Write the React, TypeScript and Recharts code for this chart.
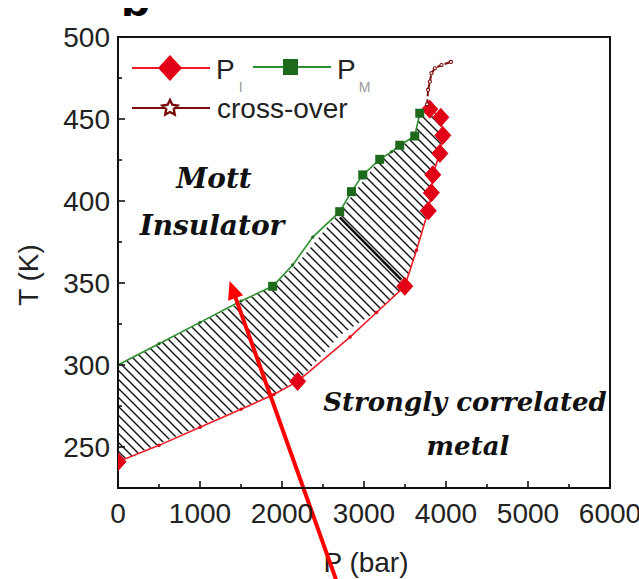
import React from 'react';
import { ComposedChart, Line, Area, XAxis, YAxis, ReferenceLine, ReferenceArea } from 'recharts';

// ---- data ----
const xTicks = [0, 500, 1000, 1500, 2000, 2500, 3000, 3500, 4000, 4500, 5000, 5500, 6000];
const yTicks = [250, 275, 300, 325, 350, 375, 400, 425, 450, 475, 500];

// P_I (red diamonds); big = 1 for large marker
const piP = [0, 500, 1000, 1500, 1900, 2191, 2829, 3152, 3497, 3640, 3784, 3821, 3839, 3925, 3961, 3937, 3802];
const piT = [241, 251, 262, 273, 282, 290, 317, 332, 348, 370, 394, 405, 416, 429, 440, 451, 456];
const piBig = [1, 0, 0, 0, 0, 1, 0, 0, 1, 0, 1, 1, 1, 1, 1, 1, 1];

// P_M (green squares)
const pmP = [0, 500, 1000, 1500, 1886, 2130, 2375, 2704, 2847, 2985, 3192, 3335, 3436, 3619, 3680];
const pmT = [300, 313, 326, 339, 348, 361, 378, 393.5, 405.7, 415.9, 425.4, 430, 434, 439.6, 453.5];
const pmBig = [0, 0, 0, 0, 1, 0, 0, 1, 1, 1, 1, 0, 1, 1, 1];

// cross-over (dark red, open stars)
const coP = [3770, 3782, 3803, 3823, 3864, 3945, 4060];
const coT = [459, 467.7, 472.8, 477.9, 480.9, 482.9, 484.8];

// hatched coexistence band (lower = P_I side, upper = P_M side)
const bandP = [0, 1886, 2191, 2704, 3192, 3497, 3619, 3680, 3784, 3839, 3925, 3961];
const bandLo = [241, 282, 290, 318, 334, 348, 366, 377, 394, 416, 429, 441];
const bandHi = [300, 348, 362, 393.5, 425.4, 435, 439.6, 453.5, 455.5, 454, 452, 444];

// annotation arrow (tail -> tip) and the emphasised hatch stroke
const arrowP = [2704, 1361];
const arrowT = [162.8, 351.2];
const boldP = [2704, 3455];
const boldT = [390, 352];

const piData = piP.map((x, i) => ({ x, t: piT[i], big: piBig[i] }));
const pmData = pmP.map((x, i) => ({ x, t: pmT[i], big: pmBig[i] }));
const coData = coP.map((x, i) => ({ x, t: coT[i] }));
const bandData = bandP.map((x, i) => ({ x, band: [bandLo[i], bandHi[i]] }));

const SANS = '"Liberation Sans", Arial, sans-serif';
const SERIF = '"DejaVu Serif", serif';
const RED = '#ee1c25';
const RED_M = '#e10016';
const GREEN = '#2f8f2f';
const GREEN_M = '#1d6a1d';
const DRED = '#7a0c0c';

const starPoints = (cx: number, cy: number, ro: number, ri: number) => {
  const pts: string[] = [];
  for (let k = 0; k < 10; k++) {
    const r = k % 2 === 0 ? ro : ri;
    const a = -Math.PI / 2 + (k * Math.PI) / 5;
    pts.push(`${cx + r * Math.cos(a)},${cy + r * Math.sin(a)}`);
  }
  return pts.join(' ');
};

const XTick = (p: any) => {
  const v = p.payload.value;
  const major = v % 1000 === 0;
  return (
    <g>
      <line x1={p.x} x2={p.x} y1={p.y} y2={p.y - (major ? 7 : 4)} stroke="#111" strokeWidth={1.6} />
      {major && (
        <text x={p.x} y={p.y + 35} textAnchor="middle" fontSize={28} fill="#222" fontFamily={SANS}>
          {v}
        </text>
      )}
    </g>
  );
};

const YTick = (p: any) => {
  const v = p.payload.value;
  const major = v % 50 === 0;
  return (
    <g>
      <line x1={p.x} x2={p.x + (major ? 7 : 4)} y1={p.y} y2={p.y} stroke="#111" strokeWidth={1.6} />
      {major && (
        <text x={p.x - 8} y={p.y + 10} textAnchor="end" fontSize={28} fill="#222" fontFamily={SANS}>
          {v}
        </text>
      )}
    </g>
  );
};

const PiDot = (p: any) => {
  const { cx, cy, payload, index } = p;
  if (cx == null || cy == null) return <g key={`pi${index}`} />;
  if (!payload.big) return <circle key={`pi${index}`} cx={cx} cy={cy} r={1.8} fill={RED_M} />;
  const w = 8, h = 9;
  return (
    <polygon
      key={`pi${index}`}
      points={`${cx},${cy - h} ${cx + w},${cy} ${cx},${cy + h} ${cx - w},${cy}`}
      fill={RED_M}
      stroke={RED_M}
    />
  );
};

const PmDot = (p: any) => {
  const { cx, cy, payload, index } = p;
  if (cx == null || cy == null) return <g key={`pm${index}`} />;
  if (!payload.big) return <circle key={`pm${index}`} cx={cx} cy={cy} r={1.6} fill={GREEN_M} />;
  const s = 4.5;
  return <rect key={`pm${index}`} x={cx - s} y={cy - s} width={2 * s} height={2 * s} fill={GREEN_M} />;
};

const CoDot = (p: any) => {
  const { cx, cy, index } = p;
  if (cx == null || cy == null) return <g key={`co${index}`} />;
  return <circle key={`co${index}`} cx={cx} cy={cy} r={1.6} fill="#fff" stroke={DRED} strokeWidth={1.1} />;
};

const ArrowShape = (p: any) => {
  const { x1, y1, x2, y2 } = p;
  if (x1 == null) return <g />;
  const dx = x2 - x1, dy = y2 - y1;
  const len = Math.sqrt(dx * dx + dy * dy);
  const ux = dx / len, uy = dy / len;
  const hl = 18, hw = 8;
  const bx = x2 - ux * hl, by = y2 - uy * hl;
  const nx = -uy, ny = ux;
  return (
    <g>
      <line x1={x1} y1={y1} x2={bx + ux * 2} y2={by + uy * 2} stroke="#ff0000" strokeWidth={4} />
      <polygon
        points={`${x2},${y2} ${bx + nx * hw},${by + ny * hw} ${bx - nx * hw},${by - ny * hw}`}
        fill="#ff0000"
      />
    </g>
  );
};

export default function App() {
  return (
    <div style={{ position: 'absolute', left: 0, top: 0, width: 639, height: 579, background: '#fff' }}>
      <ComposedChart width={639} height={579} margin={{ top: 37, right: 29, bottom: 0, left: 0 }}>
        <defs>
          <pattern id="hatch" patternUnits="userSpaceOnUse" width="9" height="9">
            <path d="M-2,-2 L11,11 M-2,7 L2,11 M7,-2 L11,2" stroke="#111" strokeWidth="1.4" />
          </pattern>
          <clipPath id="panelClip">
            <rect x={100} y={8} width={100} height={20} />
          </clipPath>
        </defs>
        <XAxis
          type="number"
          dataKey="x"
          domain={[0, 6000]}
          ticks={xTicks}
          interval={0}
          tick={<XTick />}
          tickLine={false}
          tickSize={0}
          tickMargin={0}
          height={91}
          allowDataOverflow
          axisLine={{ stroke: '#111', strokeWidth: 2 }}
        />
        <YAxis
          type="number"
          domain={[225, 500]}
          ticks={yTicks}
          interval={0}
          tick={<YTick />}
          tickLine={false}
          tickSize={0}
          tickMargin={0}
          width={118}
          allowDataOverflow
          axisLine={{ stroke: '#111', strokeWidth: 2 }}
        />
        <ReferenceArea x1={0} x2={6000} y1={225} y2={500} fill="none" stroke="#111" strokeWidth={2} ifOverflow="visible" />
        <Area
          data={bandData}
          dataKey="band"
          type="linear"
          fill="url(#hatch)"
          fillOpacity={1}
          stroke="none"
          isAnimationActive={false}
          activeDot={false}
        />
        <ReferenceLine
          segment={[{ x: boldP[0], y: boldT[0] }, { x: boldP[1], y: boldT[1] }]}
          stroke="#111"
          strokeWidth={2.6}
          ifOverflow="visible"
        />
        <Line
          data={piData}
          dataKey="t"
          type="linear"
          stroke={RED}
          strokeWidth={1.6}
          dot={PiDot}
          activeDot={false}
          isAnimationActive={false}
        />
        <Line
          data={pmData}
          dataKey="t"
          type="linear"
          stroke={GREEN}
          strokeWidth={1.6}
          dot={PmDot}
          activeDot={false}
          isAnimationActive={false}
        />
        <Line
          data={coData}
          dataKey="t"
          type="linear"
          stroke={DRED}
          strokeWidth={2}
          strokeDasharray="5 3"
          dot={CoDot}
          activeDot={false}
          isAnimationActive={false}
        />
        <ReferenceLine
          segment={[{ x: arrowP[0], y: arrowT[0] }, { x: arrowP[1], y: arrowT[1] }]}
          ifOverflow="visible"
          shape={ArrowShape}
        />

        {/* legend */}
        <g>
          <line x1={132} x2={210} y1={68} y2={68} stroke={RED} strokeWidth={2} />
          <polygon points="170,55 182,68 170,81 158,68" fill={RED_M} />
          <text x={216} y={79} fontSize={28} fill="#222" fontFamily={SANS}>
            P<tspan dx={4} dy={13} fontSize={14} fill="#999">I</tspan>
          </text>
          <line x1={253} x2={331} y1={67} y2={67} stroke={GREEN} strokeWidth={2} />
          <rect x={283} y={59} width={15} height={16} fill={GREEN_M} />
          <text x={337} y={79} fontSize={28} fill="#222" fontFamily={SANS}>
            P<tspan dx={3} dy={13} fontSize={14} fill="#999">M</tspan>
          </text>
          <line x1={132} x2={210} y1={108} y2={108} stroke={DRED} strokeWidth={2} />
          <polygon points={starPoints(170, 108, 8, 4)} fill="#fff" stroke={DRED} strokeWidth={2.4} />
          <text x={217} y={118} fontSize={28} fill="#222" fontFamily={SANS}>cross-over</text>
        </g>

        {/* annotations */}
        <text x={214} y={188} textAnchor="middle" fontSize={28} fontWeight="bold" fontStyle="italic" fill="#111" fontFamily={SERIF}>Mott</text>
        <text x={212} y={235} textAnchor="middle" fontSize={28} fontWeight="bold" fontStyle="italic" fill="#111" fontFamily={SERIF}>Insulator</text>
        <text x={465} y={411} textAnchor="middle" fontSize={26} fontWeight="bold" fontStyle="italic" fill="#111" fontFamily={SERIF}>Strongly correlated</text>
        <text x={468} y={455} textAnchor="middle" fontSize={26} fontWeight="bold" fontStyle="italic" fill="#111" fontFamily={SERIF}>metal</text>

        {/* axis titles */}
        <text x={366} y={572} textAnchor="middle" fontSize={28} fill="#222" fontFamily={SANS}>P (bar)</text>
        <text x={38} y={275} textAnchor="middle" fontSize={28} fill="#222" fontFamily={SANS} transform="rotate(-90, 38, 275)">T (K)</text>
        <text x={121} y={16} fontSize={48} fontWeight="bold" fill="#000" fontFamily={SANS} clipPath="url(#panelClip)">b</text>
      </ComposedChart>
    </div>
  );
}
